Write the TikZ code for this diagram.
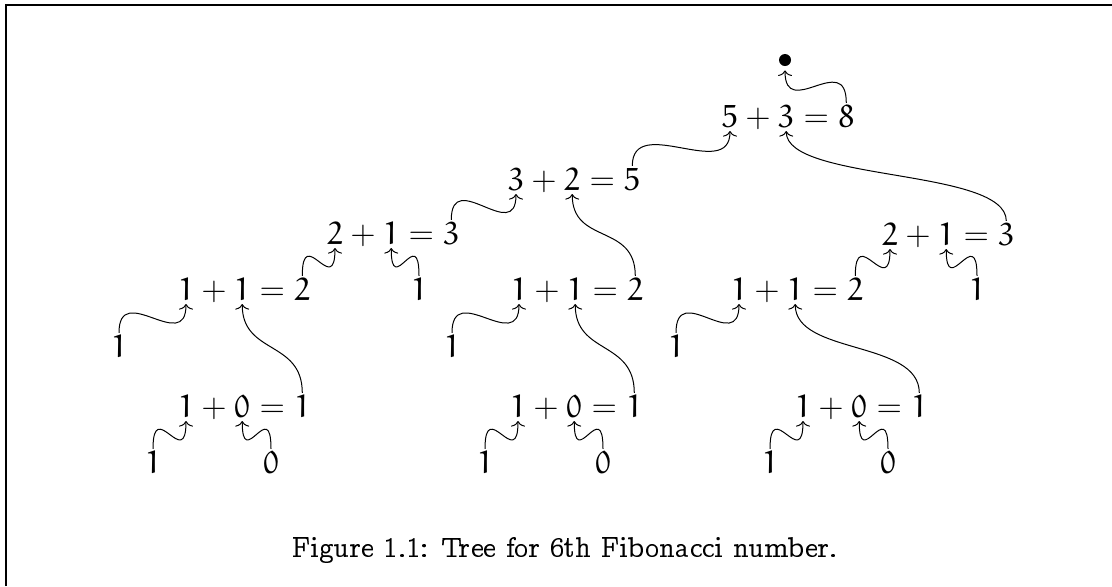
\documentclass[tikz,border=0pt]{standalone}
\usetikzlibrary{arrows.meta}
\newcommand\eud[1]{{\usefont{U}{eur}{m}{n}#1}}
\newcommand\capfont{\fontencoding{OT1}\fontfamily{ccr}\fontsize{15.5}{18}\selectfont}
\tikzset{
  dig/.style={inner sep=0pt, outer sep=0pt, font=\fontsize{16}{19}\selectfont},
  arr/.style={line width=0.5pt, -{To[length=2.8pt,width=7pt]}, shorten >=2pt, shorten <=1pt},
  frame/.style={line width=1.2pt},
}
\newcommand\fibeq[6]{%
  \node[dig,anchor=base west] (#1a) at (#2,#3) {\eud{#4}};
  \node[dig,anchor=base west] (#1p) at (#1a.base east) {${}+{}$};
  \node[dig,anchor=base west] (#1b) at (#1p.base east) {\eud{#5}};
  \node[dig,anchor=base west] (#1e) at (#1b.base east) {${}={}$};
  \node[dig,anchor=base west] (#1c) at (#1e.base east) {\eud{#6}};
}
\newcommand\wave[2]{\draw[arr] (#1.north) .. controls +(0,-55) and +(0,55) .. (#2.south);}
\begin{document}
\begin{tikzpicture}[x=0.5pt,y=-0.5pt]
\useasboundingbox (0,0) rectangle (1112,586);
\coordinate (fA) at (6,586);
\coordinate (fB) at (6,5);
\coordinate (fC) at (1112,5);
\draw[frame] (fA) -- (fB) -- (fC);

\node[circle,fill,inner sep=0pt,minimum size=6pt] (top) at (785,60) {};

\fibeq{T}{722}{127}{5}{3}{8}
\fibeq{S}{508}{190}{3}{2}{5}
\fibeq{LL}{327}{244}{2}{1}{3}
\fibeq{RR}{882}{245}{2}{1}{3}
\fibeq{L}{178}{300}{1}{1}{2}
\fibeq{M}{511}{300}{1}{1}{2}
\fibeq{R}{731}{300}{1}{1}{2}
\fibeq{LZ}{178}{417}{1}{0}{1}
\fibeq{MZ}{510}{417}{1}{0}{1}
\fibeq{RZ}{795}{417}{1}{0}{1}

\node[dig,anchor=base] (ka) at (419,300) {\eud{1}};
\node[dig,anchor=base] (kb) at (977,300) {\eud{1}};
\node[dig,anchor=base] (la) at (119,357) {\eud{1}};
\node[dig,anchor=base] (lb) at (452,357) {\eud{1}};
\node[dig,anchor=base] (lc) at (676,357) {\eud{1}};
\node[dig,anchor=base] (ma) at (153,473) {\eud{1}};
\node[dig,anchor=base] (mb) at (271,473) {\eud{0}};
\node[dig,anchor=base] (mc) at (485,473) {\eud{1}};
\node[dig,anchor=base] (md) at (603,473) {\eud{0}};
\node[dig,anchor=base] (me) at (770,473) {\eud{1}};
\node[dig,anchor=base] (mf) at (888,473) {\eud{0}};

\wave{Tc}{top}
\wave{Sc}{Ta}
\wave{RRc}{Tb}
\wave{LLc}{Sa}
\wave{Mc}{Sb}
\wave{Lc}{LLa}
\wave{ka}{LLb}
\wave{Rc}{RRa}
\wave{kb}{RRb}
\wave{la}{La}
\wave{LZc}{Lb}
\wave{lb}{Ma}
\wave{MZc}{Mb}
\wave{lc}{Ra}
\wave{RZc}{Rb}
\wave{ma}{LZa}
\wave{mb}{LZb}
\wave{mc}{MZa}
\wave{md}{MZb}
\wave{me}{RZa}
\wave{mf}{RZb}

\node[anchor=base, font=\capfont] (cap) at (565,557) {Figure 1.1: Tree for 6th Fibonacci number.};
\end{tikzpicture}
\end{document}
